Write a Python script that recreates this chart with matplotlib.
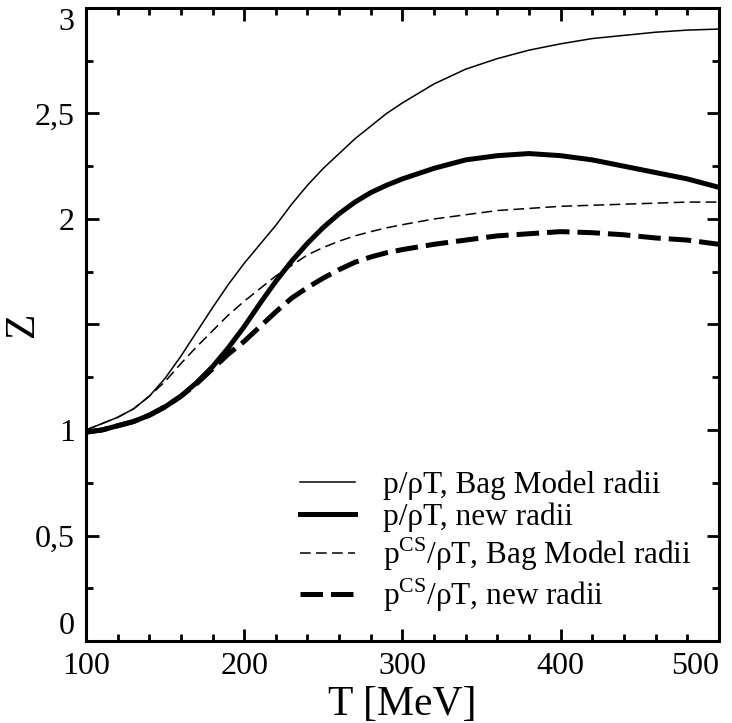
import matplotlib
matplotlib.use('Agg')
import matplotlib.pyplot as plt
from matplotlib.ticker import MultipleLocator, FixedLocator, FixedFormatter

plt.rcParams['font.family'] = ['Liberation Serif', 'DejaVu Serif']
plt.rcParams['mathtext.fontset'] = 'custom'
plt.rcParams['mathtext.rm'] = 'Liberation Serif'

T = [100, 110, 120, 130, 140, 150, 160, 170, 180, 190, 200,
     210, 220, 230, 240, 250, 260, 270, 280, 290, 300,
     320, 340, 360, 380, 400, 420, 440, 460, 480, 500]

# p/rhoT, bag model radii
z_bag = [1.00, 1.03, 1.06, 1.10, 1.16, 1.245, 1.35, 1.465, 1.58, 1.69, 1.79,
         1.88, 1.97, 2.07, 2.16, 2.24, 2.31, 2.38, 2.44, 2.50, 2.55,
         2.64, 2.71, 2.76, 2.80, 2.83, 2.855, 2.87, 2.885, 2.895, 2.90]
# p/rhoT, new radii
z_new = [0.99, 1.00, 1.02, 1.04, 1.07, 1.11, 1.16, 1.225, 1.30, 1.39, 1.49,
         1.60, 1.705, 1.80, 1.885, 1.96, 2.025, 2.08, 2.125, 2.16, 2.19,
         2.24, 2.28, 2.30, 2.31, 2.30, 2.28, 2.25, 2.22, 2.19, 2.15]
# pCS/rhoT, bag model radii
zcs_bag = [1.00, 1.03, 1.06, 1.10, 1.16, 1.23, 1.315, 1.395, 1.47, 1.545, 1.61,
           1.67, 1.73, 1.78, 1.83, 1.865, 1.895, 1.92, 1.94, 1.958, 1.973,
           2.00, 2.02, 2.04, 2.05, 2.06, 2.065, 2.07, 2.075, 2.08, 2.08]
# pCS/rhoT, new radii
zcs_new = [0.99, 1.00, 1.02, 1.04, 1.07, 1.11, 1.16, 1.22, 1.29, 1.36, 1.42,
           1.49, 1.56, 1.625, 1.675, 1.72, 1.76, 1.795, 1.82, 1.84, 1.855,
           1.88, 1.90, 1.92, 1.93, 1.94, 1.935, 1.925, 1.91, 1.90, 1.88]

labels = ['p/ρT, Bag Model radii',
          'p/ρT, new radii',
          r'p$^{\mathrm{CS}}$/ρT, Bag Model radii',
          r'p$^{\mathrm{CS}}$/ρT, new radii']

xtick_vals = [100, 200, 300, 400, 500]
ytick_vals = [0, 0.5, 1, 1.5, 2, 2.5, 3]
ytick_text = ['0', '0,5', '1', '', '2', '2,5', '3']

fig = plt.figure(figsize=(7.32, 7.23), dpi=100)
ax = fig.add_axes([0.1175, 0.1134, 0.8645, 0.8756])

ax.plot(T, z_bag, color='black', lw=1.1, label=labels[0])
ax.plot(T, z_new, color='black', lw=3.6, label=labels[1])
ax.plot(T, zcs_bag, color='black', lw=1.1, dashes=(7, 3.5), label=labels[2])
ax.plot(T, zcs_new, color='black', lw=3.6, dashes=(4.5, 1.6), label=labels[3])

ax.set_xlim(100, 500)
ax.set_ylim(0, 3)
ax.xaxis.set_major_locator(FixedLocator(xtick_vals))
ax.xaxis.set_minor_locator(MultipleLocator(20))
ax.yaxis.set_major_locator(FixedLocator(ytick_vals))
ax.yaxis.set_major_formatter(FixedFormatter(ytick_text))
ax.yaxis.set_minor_locator(MultipleLocator(0.25))

ax.tick_params(which='both', direction='in', top=True, right=True, width=2, labelsize=23)
ax.tick_params(which='major', length=9, pad=8)
ax.tick_params(which='minor', length=5)
for s in ax.spines.values():
    s.set_linewidth(2.2)

ax.set_xlabel('T [MeV]', fontsize=30)
ax.set_ylabel('Z', fontsize=30)
ax.xaxis.set_label_coords(0.5, -0.07)
ax.yaxis.set_label_coords(-0.07, 0.5)

ax.legend(loc='upper left', bbox_to_anchor=(0.338, 0.27), frameon=False,
          fontsize=22.5, handlelength=1.75, handletextpad=0.9, labelspacing=0.1,
          borderaxespad=0, borderpad=0)

# end labels pulled inside, as in the original figure
fig.canvas.draw()
yl = ax.get_yticklabels()
yl[0].set_verticalalignment('bottom')
yl[-1].set_verticalalignment('top')
xl = ax.get_xticklabels()
xl[-1].set_horizontalalignment('right')

fig.savefig('out.png', dpi=100)
